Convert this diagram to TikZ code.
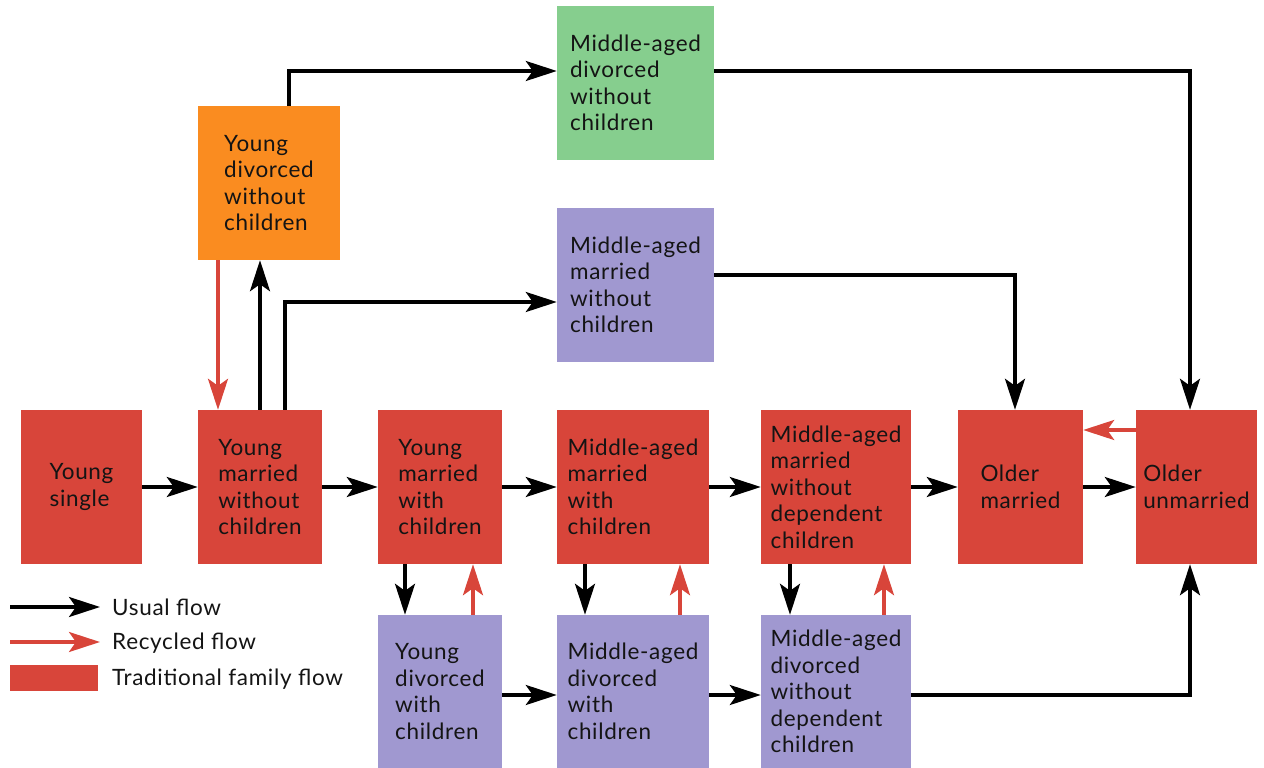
\documentclass[tikz,border=0pt]{standalone}
\usepackage{fontspec}
\setmainfont{Lato}[LetterSpace=3]
\usetikzlibrary{arrows.meta}
\definecolor{cred}{RGB}{216,69,58}
\definecolor{corange}{RGB}{250,140,32}
\definecolor{cgreen}{RGB}{134,206,142}
\definecolor{cpurple}{RGB}{160,152,208}
\definecolor{ctext}{RGB}{20,20,20}
\begin{document}
\begin{tikzpicture}[x=1pt,y=-1pt,
  box/.style={inner sep=0pt, align=left, text=ctext, font=\fontsize{22.5}{26.5}\selectfont},
  redbox/.style={box, fill=cred},
  orbox/.style={box, fill=corange},
  grbox/.style={box, fill=cgreen},
  pubox/.style={box, fill=cpurple},
  ar/.style={line width=3.3pt, draw=black, -{Stealth[length=31pt,width=20pt,inset=7pt]}},
  rar/.style={line width=3.3pt, draw=cred, -{Stealth[length=31pt,width=20pt,inset=7pt]}},
  lbl/.style={anchor=west, inner sep=0pt, text=ctext, font=\fontsize{22.5}{26}\selectfont}
]
\useasboundingbox (0,0) rectangle (1264,768);
% main row
\node[redbox, minimum width=121pt, minimum height=154pt] (ys) at (81.5,487) {Young\\single};
\node[redbox, minimum width=124pt, minimum height=154pt] (ym) at (260,487) {Young\\married\\without\\children};
\node[redbox, minimum width=124pt, minimum height=154pt] (ymc) at (440,487) {Young\\married\\with\\children};
\node[redbox, minimum width=152pt, minimum height=154pt] (mamc) at (633,487) {Middle-aged\\married\\with\\children};
\node[redbox, minimum width=150pt, minimum height=154pt] (mamnd) at (836,487) {Middle-aged\\married\\without\\dependent\\children};
\node[redbox, minimum width=125pt, minimum height=154pt] (om) at (1020.5,487) {Older\\married};
\node[redbox, minimum width=121pt, minimum height=154pt] (ou) at (1196.5,487) {Older\\unmarried};
% upper boxes
\node[orbox, minimum width=142pt, minimum height=154pt] (yd) at (269,183) {Young\\divorced\\without\\children};
\node[grbox, minimum width=157pt, minimum height=154pt] (mdw) at (635.5,83) {Middle-aged\\divorced\\without\\children};
\node[pubox, minimum width=157pt, minimum height=154pt] (mmw) at (635.5,285) {Middle-aged\\married\\without\\children};
% lower boxes
\node[pubox, minimum width=124pt, minimum height=153pt] (ydc) at (440,691.5) {Young\\divorced\\with\\children};
\node[pubox, minimum width=152pt, minimum height=153pt] (mdc) at (633,691.5) {Middle-aged\\divorced\\with\\children};
\node[pubox, minimum width=150pt, minimum height=153pt] (mdnd) at (836,691.5) {Middle-aged\\divorced\\without\\dependent\\children};
% helper coordinates
\coordinate (c1) at (289,71);
\coordinate (c2) at (285,302);
\coordinate (c3) at (1015,275);
\coordinate (c4) at (1190,695);
% main row arrows
\draw[ar] (ys) -- (ym);
\draw[ar] (ym) -- (ymc);
\draw[ar] (ymc) -- (mamc);
\draw[ar] (mamc) -- (mamnd);
\draw[ar] (mamnd) -- (om);
\draw[ar] (om) -- (ou);
\draw[rar] (ou.west |- 0,430) -- (om.east |- 0,430);
% upper arrows
\draw[rar] (yd.south -| 218,0) -- (ym.north -| 218,0);
\draw[ar] (ym.north) -- (yd.south -| ym.north);
\draw[ar] (ym.north -| c2) -- (c2) -- (mmw.west |- c2);
\draw[ar] (yd.north -| c1) -- (c1) -- (mdw.west |- c1);
\draw[ar] (mdw.east |- c1) -| (ou.north -| 1190,0);
\draw[ar] (mmw.east |- c3) -| (om.north -| c3);
% vertical arrows to lower row
\draw[ar] (ymc.south -| 405,0) -- (ydc.north -| 405,0);
\draw[rar] (ydc.north -| 473,0) -- (ymc.south -| 473,0);
\draw[ar] (mamc.south -| 585,0) -- (mdc.north -| 585,0);
\draw[rar] (mdc.north -| 680,0) -- (mamc.south -| 680,0);
\draw[ar] (mamnd.south -| 790,0) -- (mdnd.north -| 790,0);
\draw[rar] (mdnd.north -| 884,0) -- (mamnd.south -| 884,0);
% lower row arrows
\draw[ar] (ydc.east |- c4) -- (mdc.west |- c4);
\draw[ar] (mdc.east |- c4) -- (mdnd.west |- c4);
\draw[ar] (mdnd.east |- c4) -| (ou.south -| c4);
% legend
\coordinate (l1a) at (10,607);
\coordinate (l1b) at (100,607);
\coordinate (l2a) at (10,642);
\coordinate (l2b) at (100,642);
\draw[ar] (l1a) -- (l1b);
\draw[rar] (l2a) -- (l2b);
\node[fill=cred, inner sep=0pt, minimum width=88pt, minimum height=26pt] (lrect) at (54,678) {};
\node[lbl] (t1) at (112,607) {Usual flow};
\node[lbl] (t2) at (112,643) {Recycled flow};
\node[lbl] (t3) at (112,679) {Traditional family flow};
\end{tikzpicture}
\end{document}
